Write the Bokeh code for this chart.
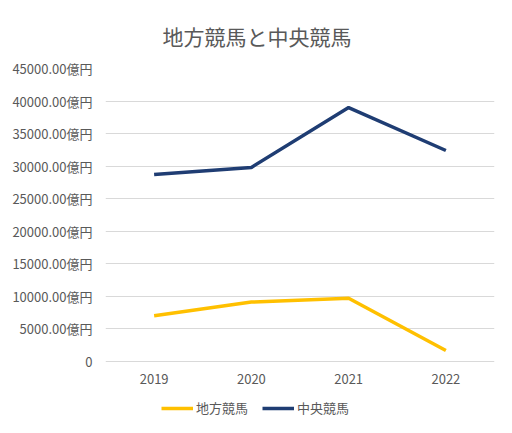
from bokeh.plotting import figure
from bokeh.models import FactorRange, Range1d, Legend, LegendItem, CustomJSTickFormatter, ColumnDataSource
from bokeh.core.properties import value
from bokeh.embed import file_html
from bokeh.resources import INLINE

years = ["2019", "2020", "2021", "2022"]
chihou = [7000, 9100, 9700, 1650]
chuou = [28700, 29800, 39000, 32400]
title_text = "地方競馬と中央競馬"
names = ["地方競馬", "中央競馬"]
colors = ["#FFC000", "#1F3D73"]
y_ticks = list(range(0, 45001, 5000))

FONT = "Noto Sans CJK JP"
GRAY = "#595959"

# frame extends below 0 so that category labels and legend sit inside it
p = figure(width=504, height=425, output_backend="svg", toolbar_location=None,
           x_range=FactorRange(*years), y_range=Range1d(-9863, 45000),
           min_border_left=105, min_border_right=10, min_border_top=23, min_border_bottom=0)
p.title.text = title_text
p.title.align = "left"
p.title.offset = 57
p.title.text_font = FONT
p.title.text_font_size = "21px"
p.title.text_font_style = "normal"
p.title.text_color = GRAY
p.title.standoff = 36

src = ColumnDataSource(dict(x=years, a=chihou, b=chuou))
r1 = p.line("x", "a", source=src, line_color=colors[0], line_width=3.5)
r2 = p.line("x", "b", source=src, line_color=colors[1], line_width=3.5)

# category labels under the zero line
p.text(x="x", y=0, text="x", source=src, y_offset=18,
       text_align="center", text_baseline="middle",
       text_font=value(FONT), text_font_size="13px", text_color=GRAY)

p.xaxis.visible = False
p.yaxis.ticker = y_ticks
p.yaxis.formatter = CustomJSTickFormatter(code="return tick == 0 ? '0' : tick.toFixed(2) + '億円';")
ax = p.yaxis[0]
ax.axis_line_color = None
ax.major_tick_line_color = None
ax.minor_tick_line_color = None
ax.major_label_text_font = FONT
ax.major_label_text_font_size = "13px"
ax.major_label_text_color = GRAY
ax.major_label_standoff = 7

p.xgrid.grid_line_color = None
p.ygrid.grid_line_color = "#D9D9D9"
p.ygrid.grid_line_width = 1
p.outline_line_color = None

legend = Legend(items=[LegendItem(label=names[0], renderers=[r1]),
                       LegendItem(label=names[1], renderers=[r2])],
                orientation="horizontal", location=(56, 8),
                label_text_font=FONT, label_text_font_size="13px", label_text_color=GRAY,
                glyph_width=32, glyph_height=14, spacing=14, label_standoff=3,
                border_line_color=None, background_fill_alpha=0, padding=0, margin=0)
p.add_layout(legend, "center")

open("out.html", "w").write(file_html(p, INLINE))
